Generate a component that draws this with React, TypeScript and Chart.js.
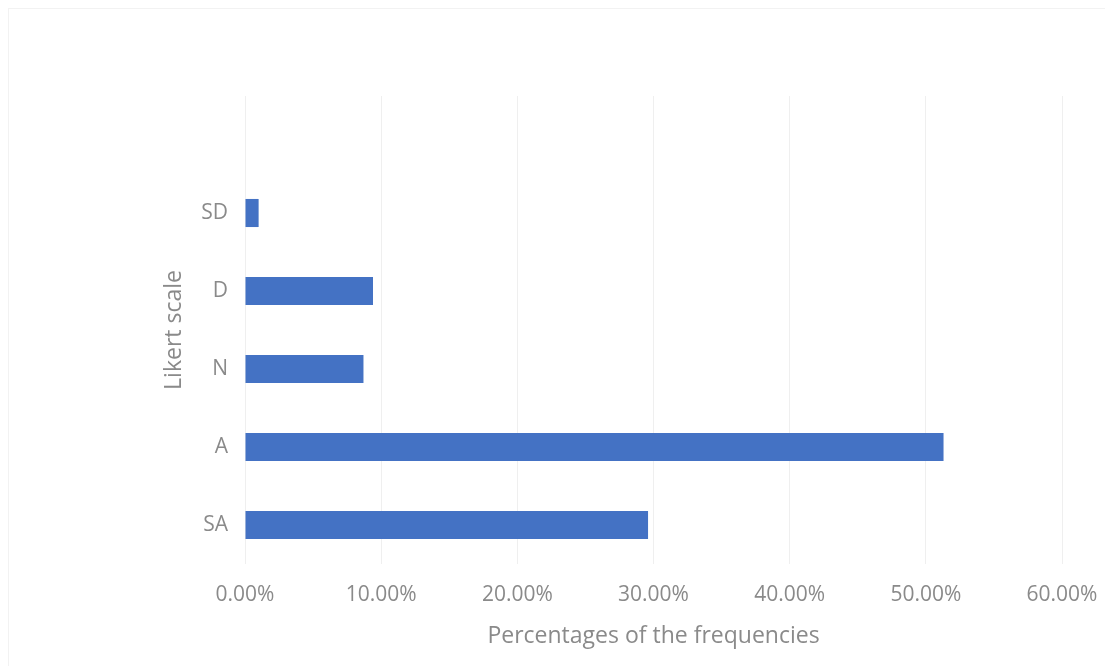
import React, { useEffect, useRef } from "react";
import { Chart, registerables } from "chart.js";

Chart.register(...registerables);

const categories = ["", "SD", "D", "N", "A", "SA"];
const percentages = [null, 1.0, 9.4, 8.7, 51.3, 29.6];
const xTicks = [0, 10, 20, 30, 40, 50, 60];

const TEXT = "#8a8a8a";
const FONT = "'Open Sans', 'Noto Sans', sans-serif";

export default function App() {
  const ref = useRef<HTMLCanvasElement | null>(null);

  useEffect(() => {
    if (!ref.current) return;
    const chart = new Chart(ref.current, {
      type: "bar",
      data: {
        labels: categories,
        datasets: [
          {
            data: percentages as any,
            backgroundColor: "#4472C4",
            borderWidth: 0,
            barPercentage: 0.36,
            categoryPercentage: 1,
          },
        ],
      },
      options: {
        indexAxis: "y",
        animation: false,
        responsive: false,
        maintainAspectRatio: false,
        layout: { padding: { top: 96, right: 43, left: 0, bottom: 0 } },
        plugins: { legend: { display: false }, tooltip: { enabled: false } },
        scales: {
          x: {
            min: xTicks[0],
            max: xTicks[xTicks.length - 1],
            afterBuildTicks: (s: any) => {
              s.ticks = xTicks.map((v) => ({ value: v }));
            },
            afterFit: (s: any) => {
              s.height = 102;
              s.paddingRight = 0;
              s.paddingLeft = 0;
            },
            grid: { color: "#efefef", lineWidth: 1, drawTicks: false },
            border: { display: false },
            ticks: {
              color: TEXT,
              font: { family: FONT, size: 21 },
              padding: 18,
              maxRotation: 0,
              callback: (v: any) => Number(v).toFixed(2) + "%",
            },
            title: {
              display: true,
              text: "Percentages of the frequencies",
              color: TEXT,
              font: { family: FONT, size: 23 },
              padding: { top: 0, bottom: 16 },
            },
          },
          y: {
            afterFit: (s: any) => {
              s.width = 245;
              s.paddingTop = 0;
              s.paddingBottom = 0;
            },
            grid: { display: false, drawTicks: false },
            border: { display: false },
            ticks: {
              color: TEXT,
              font: { family: FONT, size: 21 },
              padding: 17,
            },
            title: {
              display: true,
              text: "Likert scale",
              color: TEXT,
              font: { family: FONT, size: 23 },
              padding: { top: 161, bottom: 0 },
            },
          },
        },
      },
    });
    return () => chart.destroy();
  }, []);

  return (
    <div style={{ position: "fixed", left: 0, top: 0, width: 1105, height: 666, background: "#fff" }}>
      <div
        style={{
          position: "absolute",
          left: 8,
          top: 8,
          right: 0,
          bottom: 0,
          borderLeft: "1px solid #f2f2f2",
          borderTop: "1px solid #f2f2f2",
        }}
      />
      <canvas ref={ref} width={1105} height={666} style={{ position: "absolute", left: 0, top: 0 }} />
    </div>
  );
}
